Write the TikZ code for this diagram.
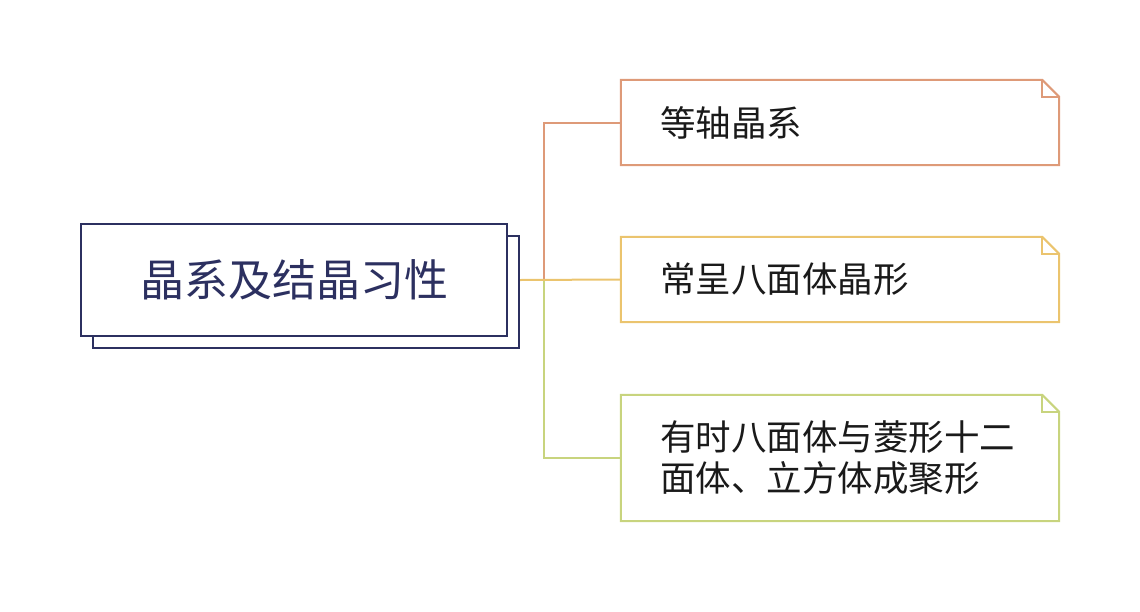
\documentclass[tikz,border=0pt]{standalone}
\usepackage{fontspec}
\newfontfamily\cjk{Noto Sans CJK SC}
\usetikzlibrary{calc}
\definecolor{navy}{HTML}{2C3060}
\definecolor{corange}{HTML}{DE9A78}
\definecolor{cyellow}{HTML}{EBC46E}
\definecolor{cgreen}{HTML}{C8D47E}
\definecolor{ink}{HTML}{1A1A1A}
\tikzset{
  mainbox/.style={draw=navy, line width=2pt, fill=white, minimum width=426pt, minimum height=112pt, inner sep=0pt},
  leafbox/.style={minimum width=438pt, inner sep=0pt},
  leaftext/.style={anchor=west, align=left, text=ink, inner sep=0pt, font=\cjk\fontsize{35.5}{41}\selectfont},
  link/.style={line width=2pt},
}
\begin{document}
\begin{tikzpicture}[x=1pt,y=-1pt]
\useasboundingbox (0,0) rectangle (1140,611);
% main
\node[mainbox] (mainback) at (306,292) {};
\node[mainbox, text=navy, font=\cjk\fontsize{44}{50}\selectfont] (main) at (294,280) {晶系及结晶习性};
% leaves
\node[leafbox, minimum height=85pt] (b1) at (840,122.5) {};
\node[leafbox, minimum height=85pt] (b2) at (840,279.5) {};
\node[leafbox, minimum height=126pt] (b3) at (840,458) {};
\foreach \b/\c in {b1/corange, b2/cyellow, b3/cgreen}{
  \draw[\c, line width=2pt, line join=miter]
    (\b.south west) |- ([xshift=-17pt]\b.north east) -- ([yshift=-17pt]\b.north east) |- cycle;
  \draw[\c, line width=2pt]
    ([xshift=-17pt]\b.north east) |- ([yshift=-17pt]\b.north east);
}
\node[leaftext] (t1) at ([xshift=39pt]b1.west) {等轴晶系};
\node[leaftext] (t2) at ([xshift=39pt]b2.west) {常呈八面体晶形};
\node[leaftext] (t3) at ([xshift=39pt]b3.west) {有时八面体与菱形十二\\面体、立方体成聚形};
% connectors
\coordinate (j) at (544,280);
\draw[link, corange] (j) |- (b1.west);
\draw[link, cgreen] (j) |- (b3.west);
\draw[link, cyellow] (main.east -| mainback.east) -- (b2.west);
\end{tikzpicture}
\end{document}
